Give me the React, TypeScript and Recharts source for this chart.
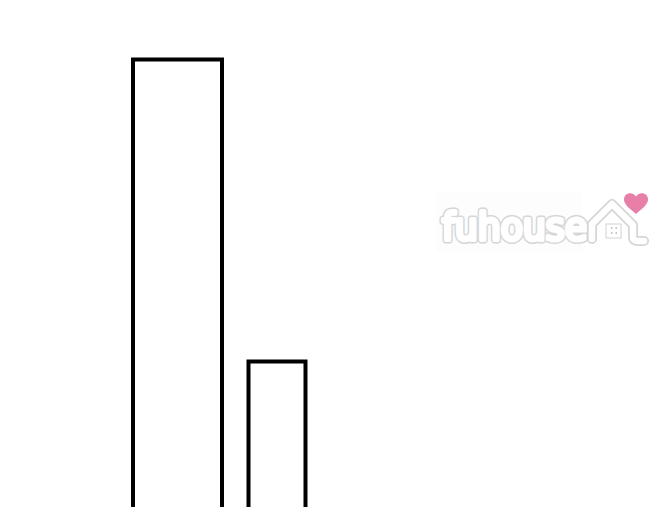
import { BarChart, Bar, XAxis, YAxis } from 'recharts';

const categories = ['A', 'B'];
const firstValues = [100, null];
const secondValues = [null, 40];

const data = categories.map((name, i) => ({
  name,
  first: firstValues[i],
  second: secondValues[i],
}));

const roof = 'M592 239 L592 224 L612 204 L633 225 L633 237 Q633 241 638 241 L644 241';

function LogoWord({ stroke, width }: { stroke: string; width: number }) {
  return (
    <text
      x={442}
      y={240}
      fontFamily="'DejaVu Sans', sans-serif"
      fontSize={37}
      textLength={145}
      lengthAdjust="spacingAndGlyphs"
      fill="#fff"
      stroke={stroke}
      strokeWidth={width}
      strokeLinejoin="round"
    >
      fuhouse
    </text>
  );
}

function Logo() {
  return (
    <svg width={650} height={507} style={{ position: 'absolute', left: 0, top: 0 }}>
      <rect x={436} y={192} width={146} height={60} fill="#fdfdfd" />
      <LogoWord stroke="#d6d6d6" width={7} />
      <LogoWord stroke="#fff" width={4} />
      <path d={roof} fill="none" stroke="#d6d6d6" strokeWidth={10} strokeLinecap="round" strokeLinejoin="round" />
      <path d={roof} fill="none" stroke="#fff" strokeWidth={6.500} strokeLinecap="round" strokeLinejoin="round" />
      <rect x={606} y={224} width={15} height={14} fill="none" stroke="#d2d2d2" strokeWidth={1} />
      <path d="M611 228h1.5M615.500 228h1.500M611 233h1.500M615.500 233h1.500" stroke="#c4c4c4" strokeWidth={2} />
      <path
        d="M636 214 C629 208 623.500 204 624 199 C624.500 193 632 191 636 196.500 C640 191 647.500 193 648 199 C648.500 204 643 208 636 214 Z"
        fill="#e77fa9"
      />
    </svg>
  );
}

export default function App() {
  return (
    <div style={{ position: 'fixed', left: 0, top: 0, width: 650, height: 507, overflow: 'hidden', background: '#fff' }}>
      <BarChart
        width={650}
        height={600}
        data={data}
        barCategoryGap={0}
        margin={{ top: 59.500, right: 323, bottom: 37, left: 128 }}
      >
        <XAxis xAxisId="a" dataKey="name" hide />
        <XAxis xAxisId="b" dataKey="name" hide />
        <YAxis hide domain={[0, 100]} />
        <Bar xAxisId="a" dataKey="first" barSize={89} fill="#fff" stroke="#000" strokeWidth={4} isAnimationActive={false} />
        <Bar xAxisId="b" dataKey="second" barSize={57} fill="#fff" stroke="#000" strokeWidth={4} isAnimationActive={false} />
      </BarChart>
      <Logo />
    </div>
  );
}
